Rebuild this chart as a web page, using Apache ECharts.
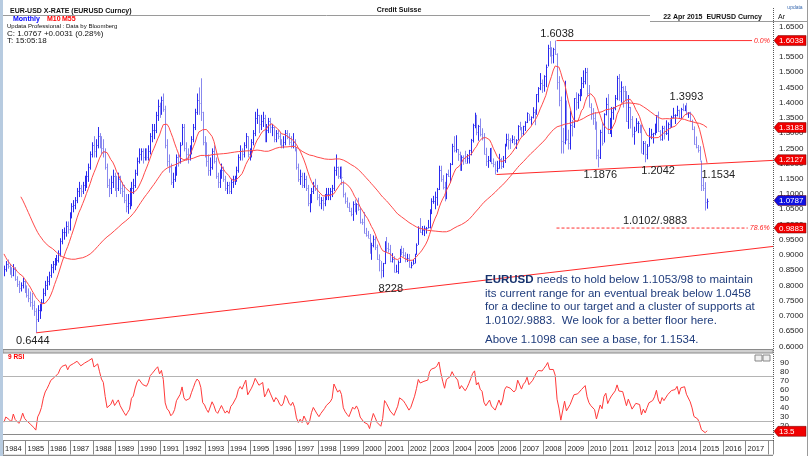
<!DOCTYPE html>
<html><head><meta charset="utf-8">
<script src="https://cdn.jsdelivr.net/npm/echarts@6/dist/echarts.min.js"></script>
<style>html,body{margin:0;padding:0;background:#fff}#c{width:811px;height:456px}</style>
</head><body><div id="c"></div>
<script>
// ---- DATA (monthly EUR-USD, synthetic before 1999) ----
// closes used only to warm up the moving averages / RSI (Apr 1980 - Dec 1983)
const warmupCloses = [
 1.43,1.50,1.52,1.51,1.50,1.51,1.45,1.39,1.37,
 1.28,1.20,1.25,1.20,1.15,1.12,1.07,1.10,1.18,1.21,1.25,1.22,
 1.15,1.12,1.09,1.11,1.13,1.07,1.06,1.08,1.04,1.03,1.03,1.10,
 1.02,1.02,1.02,0.99,0.97,0.93,0.91,0.88,0.90,0.89,0.86,0.85];
const startYear = 1984; // first visible month: Jan 1984
const highs = [
 .865,.880,.885,.870,.860,.870,.860,.830,.815,.810,.825,.815,
 .800,.790,.780,.775,.750,.725,.735,.740,.755,.790,.815,.830,
 .845,.870,.880,.890,.900,.915,.955,.985,.990,1.010,1.010,1.040,
 1.07,1.08,1.09,1.12,1.14,1.13,1.14,1.16,1.175,1.20,1.24,1.27,
 1.29,1.28,1.32,1.30,1.29,1.28,1.25,1.20,1.15,1.16,1.18,1.17,
 1.16,1.17,1.16,1.14,1.13,1.10,1.10,1.12,1.14,1.15,1.18,1.22,
 1.25,1.25,1.25,1.25,1.25,1.26,1.30,1.33,1.33,1.37,1.41,1.40,
 1.42,1.43,1.39,1.28,1.23,1.20,1.17,1.19,1.23,1.23,1.27,1.33,
 1.33,1.27,1.25,1.26,1.29,1.33,1.38,1.43,1.45,1.48,1.37,1.29,
 1.27,1.23,1.22,1.25,1.26,1.22,1.17,1.18,1.20,1.19,1.16,1.14,
 1.14,1.15,1.16,1.16,1.19,1.23,1.26,1.25,1.27,1.30,1.29,1.25,
 1.28,1.31,1.37,1.38,1.36,1.36,1.37,1.36,1.33,1.35,1.35,1.33,
 1.32,1.31,1.31,1.30,1.28,1.29,1.31,1.31,1.30,1.29,1.30,1.28,
 1.25,1.20,1.18,1.17,1.17,1.16,1.13,1.10,1.12,1.14,1.15,1.13,
 1.10,1.09,1.09,1.10,1.12,1.12,1.12,1.13,1.19,1.23,1.19,1.19,
 1.1906,1.1440,1.1050,1.0890,1.0720,1.0550,1.0760,1.0820,1.0700,1.0880,1.0560,1.0190,
 1.0410,.9890,.9790,.9690,.9400,.9640,.9600,.9340,.9020,.8800,.8740,.9450,
 .9590,.9400,.9330,.9060,.8960,.8680,.8820,.9200,.9300,.9230,.9090,.9040,
 .9030,.8780,.8850,.9040,.9380,.9940,1.0210,.9950,.9960,.9920,1.0150,1.0500,
 1.0860,1.0940,1.1080,1.1200,1.1930,1.1930,1.1620,1.1400,1.1680,1.1800,1.2020,1.2650,
 1.2900,1.2930,1.2480,1.2390,1.2270,1.2270,1.2420,1.2310,1.2450,1.2810,1.3310,1.3670,
 1.3600,1.3270,1.3480,1.3160,1.3000,1.2520,1.2250,1.2510,1.2520,1.2170,1.2070,1.2090,
 1.2320,1.2190,1.2250,1.2650,1.2980,1.2980,1.2830,1.2930,1.2900,1.2800,1.3260,1.3370,
 1.3200,1.3240,1.3390,1.3680,1.3630,1.3550,1.3850,1.3780,1.4280,1.4510,1.4970,1.4760,
 1.4900,1.5250,1.5900,1.6020,1.5820,1.5800,1.6038,1.5620,1.4870,1.4200,1.3170,1.4720,
 1.4070,1.3110,1.3740,1.3430,1.4150,1.4340,1.4300,1.4450,1.4840,1.5060,1.5140,1.5140,
 1.4580,1.3980,1.3820,1.3690,1.3380,1.2460,1.3110,1.3330,1.3650,1.4160,1.4280,1.3500,
 1.3860,1.3860,1.4250,1.4880,1.4940,1.4700,1.4540,1.4550,1.4380,1.4250,1.3860,1.3560,
 1.3210,1.3490,1.3390,1.3280,1.3280,1.2740,1.2740,1.2640,1.3170,1.3140,1.3010,1.3310,
 1.3590,1.3710,1.3100,1.3240,1.3240,1.3420,1.3350,1.3450,1.3570,1.3830,1.3620,1.3900,
 1.3770,1.3830,1.3970,1.3910,1.3993,1.3690,1.3700,1.3440,1.3220,1.2890,1.2610,1.2570,
 1.2100,1.1534,1.1390,1.0850];
const lows = [
 .830,.845,.855,.835,.825,.830,.815,.795,.775,.780,.790,.775,
 .760,.745,.730,.720,.700,.6444,.680,.690,.715,.740,.765,.785,
 .800,.825,.840,.850,.865,.875,.895,.935,.950,.960,.970,.980,
 1.02,1.04,1.05,1.07,1.09,1.09,1.10,1.11,1.12,1.14,1.18,1.22,
 1.22,1.22,1.25,1.25,1.23,1.22,1.18,1.12,1.09,1.10,1.12,1.11,
 1.09,1.11,1.10,1.09,1.07,1.04,1.035,1.05,1.06,1.10,1.12,1.16,
 1.20,1.21,1.20,1.21,1.21,1.21,1.23,1.27,1.28,1.30,1.34,1.35,
 1.36,1.37,1.25,1.19,1.17,1.13,1.12,1.14,1.16,1.19,1.20,1.26,
 1.24,1.21,1.20,1.21,1.23,1.27,1.31,1.36,1.36,1.34,1.26,1.22,
 1.19,1.16,1.16,1.18,1.20,1.15,1.12,1.12,1.15,1.14,1.11,1.10,
 1.10,1.10,1.12,1.13,1.14,1.17,1.21,1.21,1.22,1.25,1.22,1.21,
 1.22,1.26,1.29,1.33,1.30,1.31,1.32,1.27,1.27,1.30,1.30,1.29,
 1.27,1.27,1.28,1.26,1.25,1.25,1.26,1.28,1.26,1.25,1.25,1.24,
 1.18,1.14,1.13,1.12,1.12,1.11,1.06,1.04,1.07,1.10,1.11,1.08,
 1.06,1.05,1.045,1.06,1.08,1.08,1.08,1.09,1.11,1.16,1.15,1.15,
 1.1300,1.0890,1.0680,1.0560,1.0410,1.0270,1.0120,1.0400,1.0320,1.0450,1.0030,.9990,
 .9710,.9600,.9560,.9040,.8840,.9250,.9160,.8840,.8460,.8228,.8270,.8700,
 .9090,.9080,.8760,.8750,.8430,.8420,.8380,.8740,.8990,.8930,.8760,.8770,
 .8590,.8560,.8680,.8720,.9010,.9330,.9730,.9650,.9620,.9700,.9870,.9870,
 1.0340,1.0680,1.0500,1.0620,1.1130,1.1400,1.1150,1.0760,1.0830,1.1560,1.1370,1.1950,
 1.2370,1.2360,1.2090,1.1760,1.1760,1.1960,1.2030,1.2000,1.2000,1.2270,1.2690,1.3160,
 1.2930,1.2750,1.2890,1.2760,1.2300,1.1920,1.1860,1.2050,1.1980,1.1880,1.1640,1.1710,
 1.1830,1.1820,1.1860,1.2020,1.2560,1.2460,1.2480,1.2670,1.2600,1.2480,1.2760,1.3090,
 1.2870,1.2930,1.3070,1.3330,1.3400,1.3270,1.3480,1.3260,1.3600,1.4010,1.4410,1.4320,
 1.4360,1.4510,1.5190,1.5510,1.5280,1.5290,1.5570,1.4430,1.3880,1.2330,1.2330,1.2630,
 1.2750,1.2460,1.2460,1.2890,1.3170,1.3750,1.3800,1.4050,1.4210,1.4480,1.4600,1.4220,
 1.3860,1.3440,1.3270,1.3110,1.2140,1.1876,1.2150,1.2590,1.2690,1.3580,1.2970,1.2970,
 1.2870,1.3440,1.3750,1.4080,1.4060,1.4000,1.3840,1.4050,1.3370,1.3140,1.3150,1.2860,
 1.2620,1.3060,1.3000,1.3000,1.2350,1.2290,1.2042,1.2140,1.2560,1.2800,1.2660,1.2930,
 1.3000,1.3040,1.2750,1.2750,1.2790,1.2940,1.2750,1.3150,1.3170,1.3480,1.3300,1.3550,
 1.3480,1.3470,1.3720,1.3720,1.3590,1.3500,1.3380,1.3100,1.2620,1.2500,1.2360,1.2100,
 1.1100,1.1100,1.0458,1.0520];
const closes = [
 .855,.870,.865,.850,.835,.855,.820,.805,.790,.800,.815,.785,
 .770,.760,.745,.735,.715,.690,.720,.730,.745,.775,.800,.815,
 .835,.860,.870,.880,.885,.905,.945,.975,.975,.995,.985,1.030,
 1.06,1.065,1.08,1.11,1.12,1.11,1.13,1.15,1.16,1.19,1.23,1.26,
 1.24,1.26,1.29,1.27,1.25,1.24,1.19,1.13,1.12,1.14,1.16,1.13,
 1.12,1.15,1.12,1.11,1.08,1.06,1.07,1.08,1.12,1.13,1.17,1.21,
 1.23,1.24,1.22,1.23,1.22,1.24,1.29,1.31,1.31,1.36,1.39,1.37,
 1.41,1.38,1.26,1.21,1.19,1.14,1.15,1.17,1.22,1.21,1.26,1.32,
 1.25,1.23,1.22,1.24,1.28,1.32,1.37,1.41,1.40,1.37,1.27,1.25,
 1.21,1.18,1.19,1.24,1.21,1.16,1.14,1.16,1.18,1.15,1.12,1.13,
 1.11,1.14,1.15,1.15,1.18,1.22,1.24,1.23,1.26,1.29,1.23,1.24,
 1.27,1.30,1.35,1.36,1.33,1.34,1.35,1.29,1.31,1.34,1.32,1.32,
 1.28,1.30,1.29,1.27,1.26,1.27,1.30,1.29,1.27,1.26,1.27,1.25,
 1.19,1.15,1.16,1.13,1.15,1.12,1.07,1.08,1.11,1.13,1.12,1.09,
 1.07,1.08,1.07,1.09,1.10,1.10,1.11,1.12,1.18,1.19,1.16,1.17,
 1.1560,1.0990,1.0760,1.0590,1.0440,1.0360,1.0680,1.0580,1.0680,1.0510,1.0090,1.0070,
 .9720,.9660,.9560,.9130,.9340,.9530,.9260,.8870,.8830,.8500,.8720,.9400,
 .9240,.9210,.8800,.8870,.8450,.8480,.8770,.9130,.9110,.9010,.8890,.8900,
 .8600,.8680,.8720,.9020,.9330,.9880,.9770,.9810,.9870,.9880,.9930,1.0490,
 1.0760,1.0780,1.0900,1.1150,1.1790,1.1500,1.1240,1.0990,1.1650,1.1600,1.1990,1.2590,
 1.2450,1.2470,1.2310,1.1980,1.2200,1.2170,1.2020,1.2180,1.2430,1.2770,1.3260,1.3550,
 1.3040,1.3240,1.2960,1.2870,1.2320,1.2100,1.2120,1.2350,1.2030,1.1990,1.1800,1.1840,
 1.2160,1.1920,1.2120,1.2620,1.2810,1.2790,1.2760,1.2810,1.2670,1.2760,1.3240,1.3200,
 1.3000,1.3230,1.3350,1.3650,1.3450,1.3540,1.3690,1.3660,1.4270,1.4490,1.4630,1.4590,
 1.4860,1.5180,1.5790,1.5600,1.5550,1.5750,1.5600,1.4670,1.4080,1.2730,1.2700,1.3970,
 1.2800,1.2670,1.3270,1.3220,1.4150,1.4030,1.4250,1.4340,1.4640,1.4720,1.5000,1.4320,
 1.3870,1.3620,1.3510,1.3290,1.2270,1.2230,1.3050,1.2690,1.3630,1.3940,1.3000,1.3380,
 1.3690,1.3810,1.4160,1.4810,1.4390,1.4500,1.4390,1.4360,1.3390,1.3860,1.3450,1.2960,
 1.3080,1.3320,1.3340,1.3240,1.2360,1.2660,1.2300,1.2580,1.2860,1.2960,1.2990,1.3190,
 1.3580,1.3060,1.2820,1.3170,1.2990,1.3010,1.3300,1.3220,1.3530,1.3580,1.3590,1.3750,
 1.3490,1.3800,1.3770,1.3870,1.3640,1.3690,1.3390,1.3130,1.2630,1.2530,1.2450,1.2100,
 1.1290,1.1200,1.0730,1.0787];
// annotated levels
const peakLabels = [
  {text:'1.6038', t:2008.54, v:1.6038, dx:2,  dy:-7},
  {text:'1.3993', t:2014.375, v:1.3993, dx:0, dy:-6},
  {text:'1.1876', t:2010.458, v:1.1876, dx:2, dy:8},
  {text:'1.2042', t:2012.54, v:1.2042, dx:13, dy:9},
  {text:'1.1534', t:2015.125, v:1.1534, dx:15, dy:-3},
  {text:'1.0102/.9883', t:2012.98, v:1.0102, dx:0, dy:0},
  {text:'8228', t:2000.79, v:0.8228, dx:10, dy:10},
  {text:'0.6444', t:1985.46, v:0.6444, dx:-3, dy:8}
];
const supportLine = [[1985.48, 0.6444], [2018.222, 0.928]];
const resistLine = [[2005.93, 1.164], [2018.222, 1.2105]];
const fibTop = [[2008.6, 1.6038], [2017.29, 1.6038]];
const fib786 = [[2008.6, 0.9883], [2017.1, 0.9883]];
const axisBoxes = [
  {text:'1.6038', v:1.6038, color:'#f00000'},
  {text:'1.3183', v:1.3183, color:'#f00000'},
  {text:'1.2127', v:1.2127, color:'#f00000'},
  {text:'1.0787', v:1.0787, color:'#1010e0'},
  {text:'0.9883', v:0.9883, color:'#f00000'}
];
const rsiLast = '13.5';
const yTickStep = 0.05;

// ---- derived ----
const W = warmupCloses.length;
const allC = warmupCloses.concat(closes);
const n = closes.length;
const tOf = i => startYear + (i + 0.5) / 12;
function sma(p) {
  const out = [];
  for (let i = 0; i < n; i++) {
    const j = i + W;
    if (j + 1 < p) continue;
    let s = 0; for (let k = j - p + 1; k <= j; k++) s += allC[k];
    out.push([tOf(i), s / p]);
  }
  return out;
}
function rsi(p) {
  const r = new Array(allC.length).fill(null);
  let ag = 0, al = 0;
  for (let i = 1; i < allC.length; i++) {
    const d = allC[i] - allC[i - 1];
    const g = Math.max(d, 0), l = Math.max(-d, 0);
    if (i <= p) { ag += g / p; al += l / p; if (i === p) r[i] = 100 - 100 / (1 + ag / al); }
    else { ag = (ag * (p - 1) + g) / p; al = (al * (p - 1) + l) / p; r[i] = al === 0 ? 100 : 100 - 100 / (1 + ag / al); }
  }
  const out = [];
  for (let i = 0; i < n; i++) out.push([tOf(i), r[i + W]]);
  return out;
}
const bars = closes.map((c, i) => [tOf(i), highs[i], lows[i], c, i > 0 ? closes[i - 1] : warmupCloses[W - 1]]);

const FF = '"Liberation Sans", Arial, sans-serif';
const XMIN = 1984, XMAX = 2018.222;
const chart = echarts.init(document.getElementById('c'));

chart.setOption({
  animation: false,
  backgroundColor: '#ffffff',
  grid: [
    {left: 3, width: 770, top: 11.27, height: 350.3},
    {left: 3, width: 770, top: 353.5, height: 81}
  ],
  xAxis: [
    {type: 'value', gridIndex: 0, min: XMIN, max: XMAX, show: false},
    {type: 'value', gridIndex: 1, min: XMIN, max: XMAX, interval: 1, offset: 6,
     axisLine: {show: true, lineStyle: {color: '#8a8a8a'}},
     axisTick: {show: true, length: 14, lineStyle: {color: '#8a8a8a'}},
     splitLine: {show: false},
     axisLabel: {fontSize: 7.5, fontFamily: FF, color: '#222', align: 'left', margin: 4, padding: [0, 0, 0, 2],
       formatter: v => (v >= 2018 ? '' : String(v))}}
  ],
  yAxis: [
    {type: 'value', gridIndex: 0, position: 'right', min: 0.55, max: 1.70, interval: yTickStep,
     axisLine: {show: false}, axisTick: {show: false}, splitLine: {show: false},
     axisLabel: {fontSize: 8, fontFamily: FF, color: '#222', margin: 6, showMinLabel: false, showMaxLabel: false,
       formatter: v => v.toFixed(4)}},
    {type: 'value', gridIndex: 1, position: 'right', min: 10, max: 100, interval: 10,
     axisLine: {show: false}, axisTick: {show: false}, splitLine: {show: false},
     axisLabel: {fontSize: 8, fontFamily: FF, color: '#222', margin: 7,
       formatter: v => (v <= 10 || v >= 100 ? '' : String(v))}}
  ],
  series: [
    {type: 'custom', name: 'Monthly', xAxisIndex: 0, yAxisIndex: 0, data: bars, clip: true,
     encode: {x: 0, y: [1, 2]},
     renderItem: function (params, api) {
       const t = api.value(0);
       const ph = api.coord([t, api.value(1)]);
       const pl = api.coord([t, api.value(2)]);
       const pc = api.coord([t, api.value(3)]);
       const up = api.value(3) >= api.value(4);
       const col = up ? '#2a2aee' : '#8888ee';
       const x = Math.round(ph[0]) + 0.5;
       return {type: 'group', children: [
         {type: 'line', shape: {x1: x, y1: ph[1], x2: x, y2: pl[1]}, style: {stroke: col, lineWidth: 1}},
         {type: 'line', shape: {x1: x, y1: Math.round(pc[1]) + 0.5, x2: x + 1, y2: Math.round(pc[1]) + 0.5}, style: {stroke: col, lineWidth: 1}}
       ]};
     }},
    {type: 'line', name: 'M10', data: sma(10), showSymbol: false, symbol: 'none', lineStyle: {color: '#ff4a4a', width: 1}, z: 3},
    {type: 'line', name: 'M55', data: sma(55), showSymbol: false, symbol: 'none', lineStyle: {color: '#ff4a4a', width: 1}, z: 3},
    {type: 'line', data: supportLine, symbol: 'none', lineStyle: {color: '#ff2a2a', width: 1}, z: 4},
    {type: 'line', data: resistLine, symbol: 'none', lineStyle: {color: '#ff2a2a', width: 1}, z: 4},
    {type: 'line', data: fibTop, symbol: 'none', lineStyle: {color: '#ff3030', width: 1}, z: 4},
    {type: 'line', data: fib786, symbol: 'none', lineStyle: {color: '#ff3030', width: 1, type: [3, 2]}, z: 4},
    {type: 'line', name: 'RSI', xAxisIndex: 1, yAxisIndex: 1, data: rsi(9), symbol: 'none', showSymbol: false,
     lineStyle: {color: '#ff3a3a', width: 1},
     markLine: {silent: true, symbol: 'none', label: {show: false},
       lineStyle: {color: '#b4b4b4', type: 'solid', width: 1}, data: [{yAxis: 75}, {yAxis: 25}]}}
  ]
});

function txt(x, y, text, font, fill, align, extra) {
  return Object.assign({type: 'text', x: x, y: y, z: 50, silent: true,
    style: {text: text, font: font, fill: fill, align: align || 'left', textAlign: align || 'left', verticalAlign: 'middle', textVerticalAlign: 'middle'}}, extra || {});
}
function hline(x1, x2, y, col, w, dash) {
  return {type: 'line', z: 40, silent: true, shape: {x1: x1, y1: y, x2: x2, y2: y}, style: {stroke: col, lineWidth: w || 1, lineDash: dash || null}};
}
function vline(x, y1, y2, col, w, dash) {
  return {type: 'line', z: 40, silent: true, shape: {x1: x, y1: y1, x2: x, y2: y2}, style: {stroke: col, lineWidth: w || 1, lineDash: dash || null}};
}

const g = [];
// frames
g.push({type: 'rect', z: 45, silent: true, shape: {x: 0, y: 0, width: 3, height: 456}, style: {fill: '#b7cbe0'}});
g.push(hline(3, 650, 15.5, '#9a9a9a'));
g.push(hline(650, 808, 21.5, '#9a9a9a'));
g.push(vline(773.5, 8, 441, '#555', 1, [1, 1]));
g.push(vline(807.5, 0, 456, '#9a9a9a'));
g.push({type: 'rect', z: 40, silent: true, shape: {x: 3, y: 349.5, width: 770, height: 3.5}, style: {fill: '#d0d0d0', stroke: '#8a8a8a', lineWidth: 1}});
g.push(hline(3, 773, 434.5, '#8a8a8a'));
g.push(hline(3, 773, 455.5, '#8a8a8a', 1.5));
// header
g.push(txt(10, 11, 'EUR-USD X-RATE (EURUSD Curncy)', 'bold 7px ' + FF, '#111'));
g.push(txt(399, 10, 'Credit Suisse', 'bold 7px ' + FF, '#111', 'center'));
g.push(txt(762, 17.5, '22 Apr 2015  EURUSD Curncy', 'bold 7px ' + FF, '#111', 'right'));
g.push(txt(778, 17.5, 'Ar', '7px ' + FF, '#111'));
g.push(txt(795, 8, 'updata', '5px ' + FF, '#3a6ab0', 'center'));
g.push(txt(13, 19.5, 'Monthly', 'bold 7px ' + FF, '#0000ff'));
g.push(txt(47, 19.5, 'M10', 'bold 7px ' + FF, '#ff0000'));
g.push(txt(62, 19.5, 'M55', 'bold 7px ' + FF, '#ff0000'));
g.push(txt(7, 26.5, 'Updata Professional : Data by Bloomberg', '6px ' + FF, '#111'));
g.push(txt(7, 33.5, 'C: 1.0767 +0.0031 (0.28%)', '8px ' + FF, '#111'));
g.push(txt(7, 41, 'T: 15:05:18', '8px ' + FF, '#111'));
// commentary
const tf = '11.5px ' + FF;
const navy = '#1f3c7c';
const lines = [
  '{b|EURUSD} needs to hold below 1.1053/98 to maintain',
  'its current range for an eventual break below 1.0458',
  'for a decline to our target and a cluster of supports at',
  '1.0102/.9883.  We look for a better floor here.'
];
const ly = [280, 293.5, 307, 320.5];
lines.forEach((s, i) => g.push({type: 'text', x: 485, y: ly[i], z: 50, silent: true,
  style: {text: s, font: tf, fontSize: 11.5, fontFamily: FF, fill: navy, verticalAlign: 'middle', textVerticalAlign: 'middle',
    rich: {b: {fontWeight: 'bold', fontSize: 11.5, fontFamily: FF, fill: '#17336e', color: '#17336e'}}}}));
g.push(txt(485, 340, 'Above 1.1098 can see a base, for 1.1534.', tf, navy));
// RSI panel
g.push(txt(8, 357.5, '9 RSI', 'bold 6.5px ' + FF, '#ff0000'));
g.push({type: 'rect', z: 45, silent: true, shape: {x: 755, y: 355, width: 7, height: 6}, style: {fill: '#f0f0f0', stroke: '#888'}});
g.push({type: 'rect', z: 45, silent: true, shape: {x: 763, y: 355, width: 7, height: 6}, style: {fill: '#f0f0f0', stroke: '#888'}});

// data-anchored annotations
peakLabels.forEach(p => {
  const pt = chart.convertToPixel({gridIndex: 0}, [p.t, p.v]);
  g.push(txt(pt[0] + p.dx, pt[1] + p.dy, p.text, '11px ' + FF, '#222', 'center'));
});
{
  const a = chart.convertToPixel({gridIndex: 0}, fibTop[1]);
  g.push(txt(a[0] + 2, a[1], '0.0%', 'italic 7px ' + FF, '#ff2020'));
  const b = chart.convertToPixel({gridIndex: 0}, fib786[1]);
  g.push(txt(b[0] + 2, b[1], '78.6%', 'italic 7px ' + FF, '#ff2020'));
}
axisBoxes.forEach(bx => {
  const y = chart.convertToPixel({yAxisIndex: 0}, bx.v);
  g.push({type: 'polygon', z: 48, silent: true,
    shape: {points: [[774, y], [778, y - 5], [806, y - 5], [806, y + 5], [778, y + 5]]},
    style: {fill: bx.color, stroke: '#600', lineWidth: 0.5}});
  g.push(txt(779, y + 0.5, bx.text, '8px ' + FF, '#fff', 'left', {z: 49}));
});
{
  const y = chart.convertToPixel({yAxisIndex: 1}, 13.5);
  g.push({type: 'polygon', z: 48, silent: true,
    shape: {points: [[774, y], [778, y - 5], [806, y - 5], [806, y + 5], [778, y + 5]]},
    style: {fill: '#f00000', stroke: '#600', lineWidth: 0.5}});
  g.push(txt(779, y + 0.5, rsiLast, '8px ' + FF, '#fff', 'left', {z: 49}));
}
chart.setOption({graphic: {elements: g}});
</script></body></html>
